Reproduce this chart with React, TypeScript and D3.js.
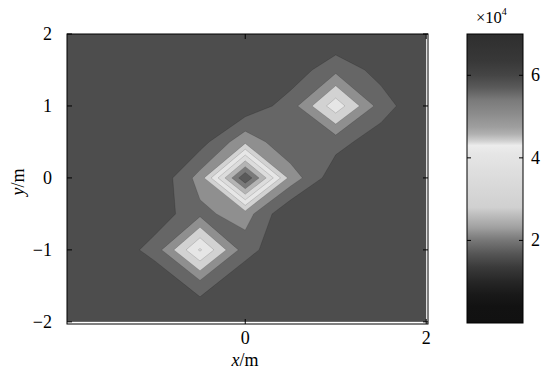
import * as d3 from 'd3'

const W = 544
const H = 379

// grid nodes (m)
const xNodes = [-2, -1.5, -1, -0.5, 0, 0.5, 1, 1.5, 2]
const yNodes = [2, 1.5, 1, 0.5, 0, -0.5, -1, -1.5, -2] // rows, top to bottom
// field values, x10^4, one row per yNodes entry
const z = [
  [1.0, 1.0, 1.0, 1.0, 1.0, 1.0, 1.0, 1.0, 1.0],
  [1.0, 1.0, 1.0, 1.0, 1.0, 1.17, 1.86, 1.3, 1.0],
  [1.0, 1.0, 1.0, 1.0, 1.125, 1.75, 3.32, 1.76, 1.0],
  [1.0, 1.0, 1.0, 1.28, 2.375, 1.55, 1.69, 1.2, 1.0],
  [1.0, 1.0, 1.04, 2.2, 5.47, 2.3, 1.16, 1.0, 1.0],
  [1.0, 1.0, 1.185, 1.87, 2.23, 1.0, 1.0, 1.0, 1.0],
  [1.0, 1.07, 1.72, 3.57, 1.72, 1.0, 1.0, 1.0, 1.0],
  [1.0, 1.0, 1.0, 1.72, 1.0, 1.0, 1.0, 1.0, 1.0],
  [1.0, 1.0, 1.0, 1.0, 1.0, 1.0, 1.0, 1.0, 1.0],
]
const levels = [1.5, 2.0, 2.5, 3.0, 3.5, 4.0, 4.5, 5.0]
const levelColors = ['#666666', '#8f8f8f', '#d2d2d2', '#e6e6e6', '#dcdcdc', '#b4b4b4', '#7a7a7a', '#5a5a5a']
const baseColor = '#4d4d4d'

const xTicks = [0, 2]
const yTicks = [-2, -1, 0, 1, 2]
const cbTicks = [2, 4, 6]
// colour bar stops: value (x10^4) -> grey
const cbStops: [number, string][] = [
  [0, '#111111'], [0.4, '#121212'], [0.7, '#191919'], [1.0, '#262626'], [1.35, '#3a3a3a'],
  [1.67, '#555555'], [2.0, '#777777'], [2.15, '#8a8a8a'], [2.31, '#a0a0a0'], [2.56, '#b8b8b8'],
  [2.8, '#d0d0d0'], [3.28, '#d8d8d8'], [3.77, '#e0e0e0'], [4.1, '#e6e6e6'], [4.3, '#ececec'],
  [4.41, '#d0d0d0'], [4.58, '#b0b0b0'], [4.74, '#9f9f9f'], [5.06, '#8c8c8c'], [5.4, '#7a7a7a'],
  [5.7, '#5a5a5a'], [6.0, '#454545'], [6.35, '#383838'], [7.0, '#2e2e2e'],
]

const FONT = 'Liberation Serif, Times New Roman, DejaVu Serif, serif'
const AX = { l: 67, r: 428, t: 34, b: 324 }
const CB = { l: 467, r: 523, t: 34, b: 323 }

export default function App() {
  const x = d3.scaleLinear().domain([-1.97, 2.02]).range([AX.l, AX.r])
  const y = d3.scaleLinear().domain([-2.03, 2]).range([AX.b, AX.t])
  const cb = d3.scaleLinear().domain([0, 7]).range([CB.b, CB.t])

  const nx = xNodes.length
  const ny = yNodes.length
  const dxN = xNodes[1] - xNodes[0]
  const dyN = yNodes[1] - yNodes[0]
  // d3.contours puts node i at i + 0.5
  const proj = d3.geoTransform({
    point(gx: number, gy: number) {
      this.stream.point(x(xNodes[0] + (gx - 0.5) * dxN), y(yNodes[0] + (gy - 0.5) * dyN))
    },
  })
  const path = d3.geoPath(proj)
  const bands = d3.contours().size([nx, ny]).smooth(true).thresholds(levels)(z.flat())

  const tickStyle = { stroke: '#000', strokeWidth: 1 }

  return (
    <div style={{ position: 'absolute', left: 0, top: 0 }}>
      <svg width={W} height={H} style={{ display: 'block', background: '#fff', fontFamily: FONT }}>
        <defs>
          <clipPath id="ax">
            <rect x={AX.l} y={AX.t} width={AX.r - AX.l} height={AX.b - AX.t} />
          </clipPath>
          <linearGradient id="cbg" x1="0" y1="1" x2="0" y2="0">
            {cbStops.map(([v, c], i) => (
              <stop key={i} offset={v / 7} stopColor={c} />
            ))}
          </linearGradient>
        </defs>

        <g clipPath="url(#ax)">
          <rect x={x(-2)} y={y(2)} width={x(2) - x(-2)} height={y(-2) - y(2)} fill={baseColor} />
          {bands.map((b, i) => (
            <path key={i} d={path(b as any) || ''} fill={levelColors[i]} stroke="rgba(0,0,0,0.2)" strokeWidth={0.7} />
          ))}
        </g>

        <rect x={AX.l} y={AX.t} width={AX.r - AX.l} height={AX.b - AX.t} fill="none" stroke="#000" strokeWidth={1} />
        {xTicks.map((t) => (
          <g key={'x' + t}>
            <line x1={x(t)} x2={x(t)} y1={AX.b} y2={AX.b - 5} {...tickStyle} />
            <line x1={x(t)} x2={x(t)} y1={AX.t} y2={AX.t + 5} {...tickStyle} />
            <text x={x(t)} y={344} textAnchor="middle" fontSize={18}>{t}</text>
          </g>
        ))}
        {yTicks.map((t) => (
          <g key={'y' + t}>
            <line x1={AX.l} x2={AX.l + 5} y1={y(t)} y2={y(t)} {...tickStyle} />
            <line x1={AX.r} x2={AX.r - 5} y1={y(t)} y2={y(t)} {...tickStyle} />
            <text x={52} y={y(t) + 6} textAnchor="end" fontSize={18}>{t < 0 ? '\u2212' + Math.abs(t) : t}</text>
          </g>
        ))}
        <text x={245} y={366} textAnchor="middle" fontSize={18}>
          <tspan fontStyle="italic">x</tspan>/m
        </text>
        <text transform={`translate(24,${182}) rotate(-90)`} textAnchor="middle" fontSize={18}>
          <tspan fontStyle="italic">y</tspan>/m
        </text>

        <rect x={CB.l} y={CB.t} width={CB.r - CB.l} height={CB.b - CB.t} fill="url(#cbg)" stroke="#000" strokeWidth={1} />
        {cbTicks.map((t) => (
          <g key={'c' + t}>
            <line x1={CB.l} x2={CB.l + 4} y1={cb(t)} y2={cb(t)} {...tickStyle} />
            <line x1={CB.r} x2={CB.r - 4} y1={cb(t)} y2={cb(t)} {...tickStyle} />
            <text x={531} y={cb(t) + 6} fontSize={18}>{t}</text>
          </g>
        ))}
        <text x={476} y={23} fontSize={16.5}>
          ×10<tspan dy={-8} fontSize={10}>4</tspan>
        </text>
      </svg>
    </div>
  )
}
